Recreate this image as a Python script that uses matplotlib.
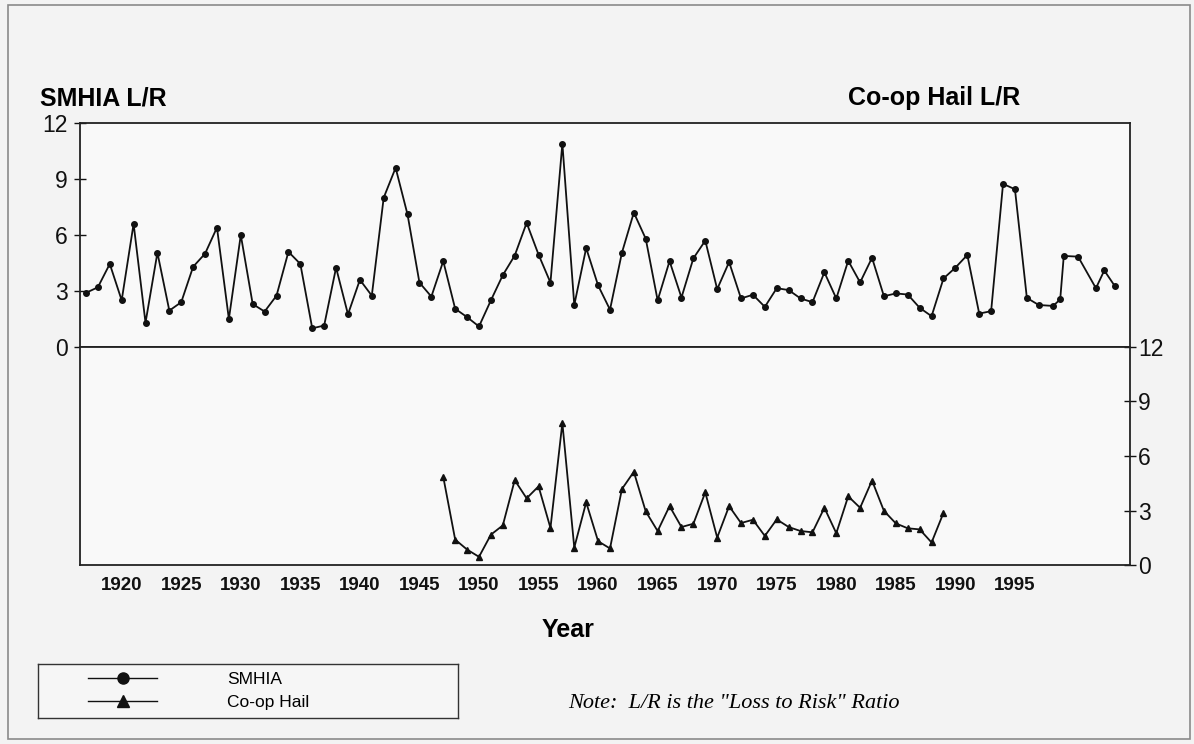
import matplotlib.pyplot as plt
from matplotlib.lines import Line2D
from matplotlib.patches import Rectangle

smhia_years = list(range(1917, 1998)) + [1998.2, 1998.8, 1999.1, 2000.3, 2001.8, 2002.5, 2003.4]
smhia_lr = [2.9, 3.2, 4.45, 2.5, 6.6, 1.3, 5.05, 1.95, 2.4, 4.3,
            5.0, 6.4, 1.5, 6.0, 2.3, 1.9, 2.75, 5.1, 4.45, 1.0,
            1.15, 4.25, 1.75, 3.6, 2.75, 8.0, 9.6, 7.1, 3.45, 2.7,
            4.6, 2.05, 1.6, 1.1, 2.5, 3.85, 4.9, 6.65, 4.95, 3.45,
            10.9, 2.25, 5.3, 3.3, 2.0, 5.05, 7.2, 5.8, 2.5, 4.6,
            2.65, 4.75, 5.7, 3.1, 4.55, 2.6, 2.8, 2.15, 3.15, 3.05,
            2.6, 2.4, 4.0, 2.6, 4.62, 3.46, 4.78, 2.72, 2.87, 2.81,
            2.1, 1.65, 3.67, 4.25, 4.93, 1.79, 1.92, 8.74, 8.45, 2.63,
            2.25, 2.2, 2.55, 4.88, 4.84, 3.15, 4.1, 3.25]

# Co-op Hail loss-to-risk ratio by year
coop_years = list(range(1947, 1990))
coop_lr = [4.85, 1.4, 0.85, 0.45, 1.67, 2.18, 4.67, 3.67, 4.33, 2.04,
           7.82, 0.96, 3.45, 1.31, 0.91, 4.18, 5.13, 2.95, 1.87, 3.24,
           2.09, 2.27, 4.0, 1.51, 3.24, 2.31, 2.49, 1.6, 2.51, 2.09,
           1.87, 1.8, 3.15, 1.75, 3.78, 3.15, 4.65, 2.98, 2.29, 2.02,
           1.96, 1.24, 2.87]

year_ticks = list(range(1920, 2000, 5))
lr_ticks = [0, 3, 6, 9, 12]

plt.rcParams['font.family'] = ['Liberation Sans', 'DejaVu Sans']

W, H = 1194, 744
fig = plt.figure(figsize=(W / 100, H / 100), dpi=100, facecolor='#f3f3f3')
fig.patches.append(Rectangle((8 / W, 5 / H), 1182 / W, 734 / H, transform=fig.transFigure,
                             fill=False, edgecolor='#8a8a8a', lw=1.2))

x_lim = (1916.5, 2004.66)
ax1 = fig.add_axes([80 / W, 1 - 347 / H, 1050 / W, 224 / H])
ax2 = fig.add_axes([80 / W, 1 - 565 / H, 1050 / W, 218 / H])

for ax in (ax1, ax2):
    ax.set_facecolor('#f9f9f9')
    ax.set_xlim(*x_lim)
    ax.set_ylim(0, 12)
    ax.set_yticks(lr_ticks)
    for sp in ax.spines.values():
        sp.set_color('#222222')
        sp.set_linewidth(1.3)

ax1.plot(smhia_years, smhia_lr, color='#111111', lw=1.3, marker='o', ms=4)
ax1.set_xticks([])
ax1.tick_params(axis='y', direction='inout', length=8, width=1, labelsize=16.5, pad=5, colors='#111111')
ax1.set_yticklabels([str(t) for t in lr_ticks])

ax2.plot(coop_years, coop_lr, color='#111111', lw=1.3, marker='^', ms=4)
ax2.yaxis.tick_right()
ax2.tick_params(axis='y', direction='inout', length=8, width=1, labelsize=16.5, pad=2, colors='#111111')
ax2.set_xticks(year_ticks)
ax2.set_xticklabels([str(y) for y in year_ticks], fontweight='bold')
ax2.tick_params(axis='x', length=0, labelsize=13.5, pad=9, colors='#111111')

fig.text(40 / W, 1 - 98 / H, 'SMHIA L/R', fontsize=18, fontweight='bold', va='center', ha='left')
fig.text(1020 / W, 1 - 98 / H, 'Co-op Hail L/R', fontsize=18, fontweight='bold', va='center', ha='right')
fig.text(568 / W, 1 - 630 / H, 'Year', fontsize=18, fontweight='bold', va='center', ha='center')

# legend box
lax = fig.add_axes([38 / W, 1 - 718 / H, 420 / W, 54 / H])
lax.set_facecolor('#f6f6f6')
lax.set_xticks([])
lax.set_yticks([])
for sp in lax.spines.values():
    sp.set_color('#333333')
    sp.set_linewidth(1)
handles = [Line2D([], [], color='#111111', lw=1, marker='o', ms=8),
           Line2D([], [], color='#111111', lw=1, marker='^', ms=8)]
lax.legend(handles, ['SMHIA', 'Co-op Hail'], loc='center left', bbox_to_anchor=(50 / 420, 0.5),
           frameon=False, borderaxespad=0, borderpad=0, handlelength=4, handletextpad=4.0,
           labelspacing=0.5, fontsize=12.5)

fig.text(568 / W, 1 - 703 / H, 'Note:  L/R is the "Loss to Risk" Ratio', fontsize=16,
         family=['Liberation Serif', 'DejaVu Serif'], style='italic', va='center', ha='left')

fig.savefig('out.png', dpi=100, facecolor=fig.get_facecolor())
